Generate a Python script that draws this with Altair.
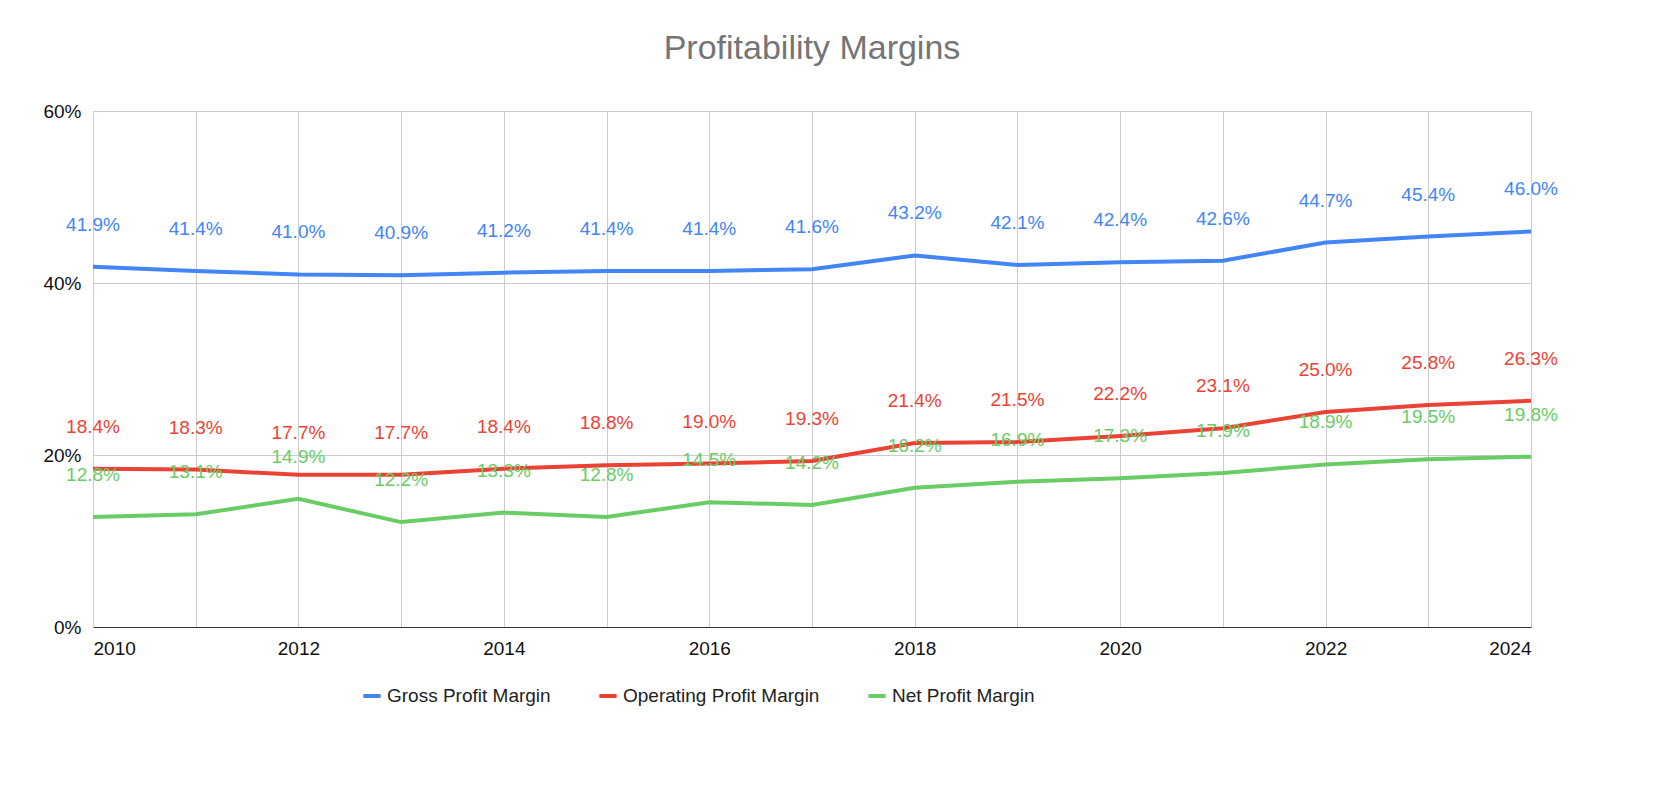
import pandas as pd
import altair as alt

years = list(range(2010, 2025))
gross = [41.9, 41.4, 41.0, 40.9, 41.2, 41.4, 41.4, 41.6, 43.2, 42.1, 42.4, 42.6, 44.7, 45.4, 46.0]
operating = [18.4, 18.3, 17.7, 17.7, 18.4, 18.8, 19.0, 19.3, 21.4, 21.5, 22.2, 23.1, 25.0, 25.8, 26.3]
net = [12.8, 13.1, 14.9, 12.2, 13.3, 12.8, 14.5, 14.2, 16.2, 16.9, 17.3, 17.9, 18.9, 19.5, 19.8]

series = ["Gross Profit Margin", "Operating Profit Margin", "Net Profit Margin"]
colors = ["#4285F4", "#EA4335", "#6ACC64"]

rows = []
for name, vals in zip(series, [gross, operating, net]):
    for y, v in zip(years, vals):
        rows.append({"year": y, "value": v / 100, "series": name, "label": f"{v:.1f}%"})
df = pd.DataFrame(rows)

color = alt.Color("series:N", sort=series,
                  scale=alt.Scale(domain=series, range=colors),
                  legend=alt.Legend(title=None, orient="none", direction="horizontal",
                                    legendX=268, legendY=574,
                                    symbolType="stroke", symbolStrokeWidth=4, symbolSize=300,
                                    labelFontSize=19, labelColor="#222", columnPadding=40,
                                    labelLimit=400))

base = alt.Chart(df).encode(
    x=alt.X("year:Q", title=None,
            scale=alt.Scale(domain=[2010, 2024], nice=False),
            axis=alt.Axis(values=years, labelExpr="datum.value % 2 == 0 ? datum.value : ''",
                          labelFontSize=19, labelColor="#111", grid=True, gridColor="#cccccc",
                          domainColor="#333", ticks=False, labelPadding=12, labelFlush=True)),
    y=alt.Y("value:Q", title=None,
            scale=alt.Scale(domain=[0, 0.6], nice=False),
            axis=alt.Axis(values=[0, 0.2, 0.4, 0.6], format=".0%", labelFontSize=19,
                          labelColor="#111", gridColor="#cccccc", domainColor="#cccccc",
                          ticks=False, labelPadding=12)),
    color=color,
)

lines = base.mark_line(strokeWidth=4)
labels = base.mark_text(dy=-42, fontSize=19).encode(text="label:N")

chart = alt.layer(lines, labels).properties(
    width=1438, height=516,
    title=alt.TitleParams("Profitability Margins", fontSize=34, fontWeight="normal",
                          color="#757575", font="Liberation Sans", offset=36),
    autosize=alt.AutoSizeParams(type="none"),
    padding={"left": 85, "top": 103, "right": 135, "bottom": 163},
).configure_view(stroke=None).configure(font="Liberation Sans")

chart.save("out.html", embed_options={"renderer": "svg", "actions": False})
